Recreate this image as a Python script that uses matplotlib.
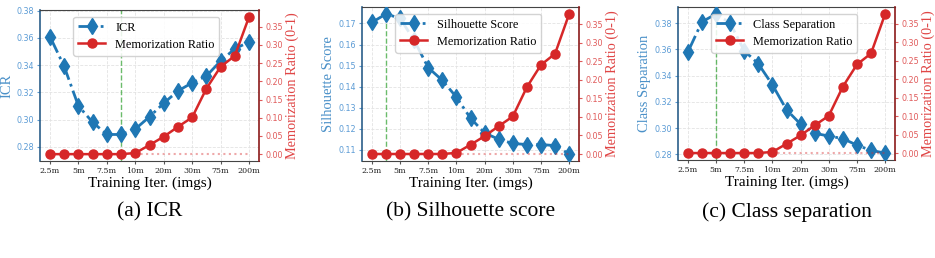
import matplotlib
matplotlib.use("Agg")
import matplotlib.pyplot as plt
import numpy as np

x_labels = ["2.5m", "5m", "7.5m", "10m", "20m", "30m", "75m", "200m"]
mem_ratio = [0.0, 0.0, 0.0, 0.0, 0.0, 0.0, 0.003, 0.025, 0.048, 0.075, 0.101, 0.180, 0.240, 0.270, 0.377]
icr = [0.361, 0.339, 0.310, 0.298, 0.289, 0.289, 0.293, 0.302, 0.312, 0.321, 0.327, 0.332, 0.343, 0.352, 0.357]
silhouette = [0.1705, 0.1745, 0.1725, 0.162, 0.149, 0.143, 0.135, 0.125, 0.118, 0.115, 0.113, 0.1125, 0.1125, 0.112, 0.108]
class_sep = [0.358, 0.381, 0.387, 0.380, 0.359, 0.349, 0.333, 0.314, 0.303, 0.296, 0.294, 0.292, 0.287, 0.283, 0.281]

panels = [
    ("ICR", icr, 5, (0.2695, 0.3805), [0.28, 0.30, 0.32, 0.34, 0.36, 0.38], "(a) ICR"),
    ("Silhouette Score", silhouette, 1, None, [0.11, 0.12, 0.13, 0.14, 0.15, 0.16, 0.17], "(b) Silhouette score"),
    ("Class Separation", class_sep, 2, None, [0.28, 0.30, 0.32, 0.34, 0.36, 0.38], "(c) Class separation"),
]

W, H = 935, 258
fig = plt.figure(figsize=(W / 100, H / 100), dpi=100)

boxes = [(40, 10, 259, 161), (362, 7, 579, 161), (678, 7, 895, 160)]

BLUE = "#1f77b4"
RED = "#d62728"
LAB = "Liberation Serif"

for (name, vals, best, ylim, yt, cap), box in zip(panels, boxes):
    l, t, r, b = box
    ax = fig.add_axes([l / W, 1 - b / H, (r - l) / W, (b - t) / H])
    n = len(vals)
    xs = np.arange(n)
    l1, = ax.plot(xs, vals, linestyle="-.", color=BLUE, marker="d", markersize=8, linewidth=2, label=name, zorder=3)
    if ylim is not None:
        ax.set_ylim(*ylim)
    ax.set_yticks(yt)
    ax.yaxis.set_major_formatter(matplotlib.ticker.FormatStrFormatter("%.2f"))
    ax.set_xticks(xs[::2])
    ax.set_xticklabels(x_labels, fontsize=5.8, family="DejaVu Serif", color="#222222")
    ax.tick_params(axis="y", labelsize=5.8, colors="#5b9bd5", length=2.5, pad=2)
    ax.tick_params(axis="x", length=2.5, pad=2, color="#555555")
    ax.set_ylabel(name, fontsize=10.5, color="#4a90c8", family=LAB, labelpad=2)
    ax.set_xlabel("Training Iter. (imgs)", fontsize=11, family=LAB, labelpad=1)
    ax.grid(True, linestyle="--", color="#e3e3e3", linewidth=0.6)
    ax.axvline(best, color="#2ca02c", linestyle="--", linewidth=1, alpha=0.7, zorder=2)
    ax.spines["left"].set_color("#2b5f8a")
    ax.spines["left"].set_linewidth(1.2)
    ax.spines["right"].set_visible(False)
    ax.spines["top"].set_color("#444444")
    ax.spines["bottom"].set_color("#444444")

    ax2 = ax.twinx()
    l2, = ax2.plot(xs, mem_ratio, linestyle="-", color=RED, marker="o", markersize=6.5, linewidth=1.8, label="Memorization Ratio", zorder=3)
    ax2.plot(xs[6:], [0.0] * (n - 6), linestyle=":", color=RED, alpha=0.4, linewidth=1.5)
    ax2.set_yticks([0, 0.05, 0.10, 0.15, 0.20, 0.25, 0.30, 0.35])
    ax2.yaxis.set_major_formatter(matplotlib.ticker.FormatStrFormatter("%.2f"))
    ax2.tick_params(axis="y", labelsize=5.8, colors="#e05a5a", length=2.5, pad=2)
    ax2.set_ylabel("Memorization Ratio (0-1)", fontsize=10.3, color="#e04545", family=LAB, labelpad=2)
    ax2.spines["right"].set_color("#8b1a1a")
    ax2.spines["right"].set_linewidth(1.2)
    ax2.spines["left"].set_visible(False)
    ax2.spines["top"].set_visible(False)
    ax2.spines["bottom"].set_visible(False)
    ax.set_xlim(-0.7, n - 0.3)

    leg = ax.legend([l1, l2], [name, "Memorization Ratio"], loc="upper left",
                    bbox_to_anchor=(0.125, 0.995), prop={"family": LAB, "size": 8.8},
                    framealpha=0.85, handlelength=2.2, borderpad=0.4, labelspacing=0.4)
    leg.set_zorder(10)

    cx = (l + r) / 2
    fig.text(cx / W, 1 - 212 / H, cap, ha="center", va="center", fontsize=15.5, family=LAB)

fig.savefig("out.png", dpi=100)
